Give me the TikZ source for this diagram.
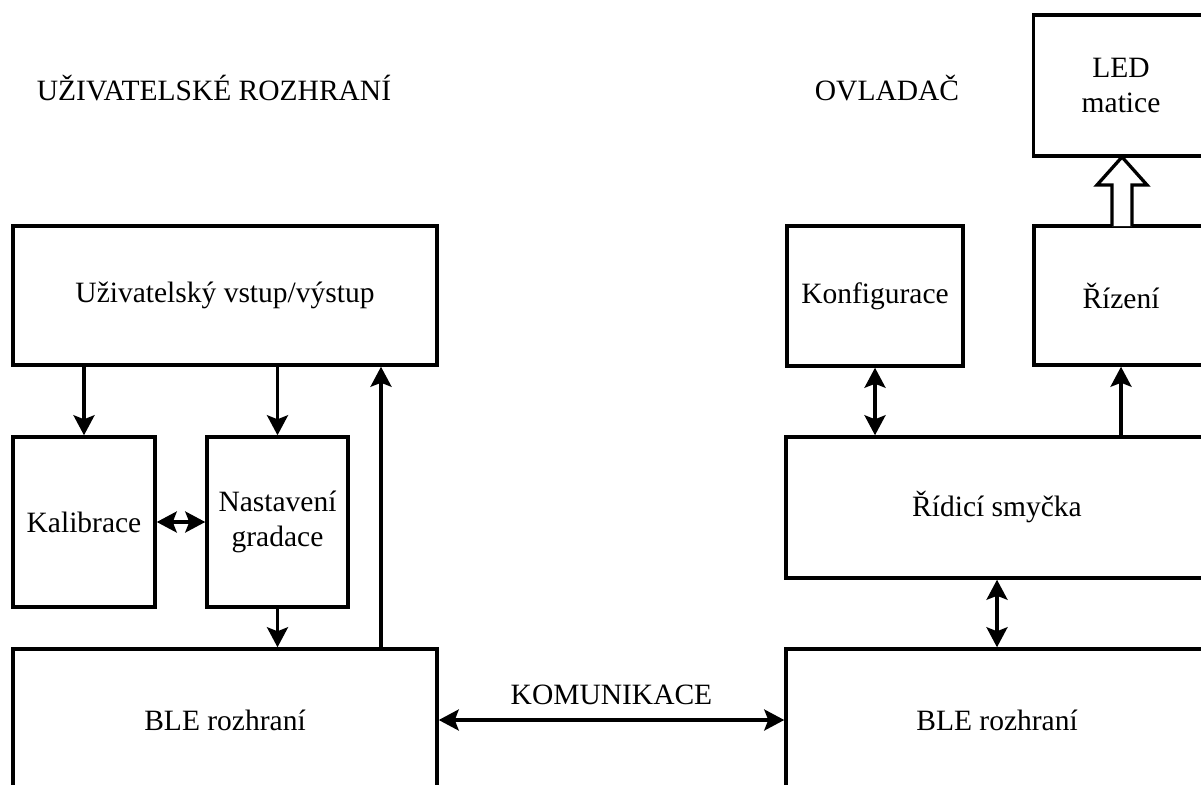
\documentclass[tikz,border=0pt]{standalone}
\usepackage{fontspec}
\setmainfont{Liberation Serif}
\usetikzlibrary{arrows.meta}
\begin{document}
\begin{tikzpicture}[x=1pt,y=-1pt,
  blok/.style={draw,line width=3.5pt,rectangle,inner sep=0pt,align=center,font=\fontsize{29.5}{35}\selectfont},
  sip/.style={line width=3.3pt,-{Stealth[length=20pt,width=21pt,inset=4pt]}},
  obousip/.style={line width=3.3pt,{Stealth[length=20pt,width=21pt,inset=4pt]}-{Stealth[length=20pt,width=21pt,inset=4pt]}},
  popis/.style={font=\fontsize{29.5}{35}\selectfont}]
\useasboundingbox (0,0) rectangle (1201,784);
\clip (0,0) rectangle (1201,784);
\fill[white] (0,0) rectangle (1201,784);

% headings
\node[popis] (hUI) at (214,88) {UŽIVATELSKÉ ROZHRANÍ};
\node[popis] (hOV) at (887,88) {OVLADAČ};

% left side: user interface
\node[blok,minimum width=424pt,minimum height=139pt] (uio) at (225,295.5) {Uživatelský vstup/výstup};
\node[blok,minimum width=142pt,minimum height=170pt] (kal) at (84,522) {Kalibrace};
\node[blok,minimum width=141pt,minimum height=170pt] (nas) at (277.5,522) {Nastavení\\gradace};
\node[blok,minimum width=424pt,minimum height=142pt] (bleL) at (225,720) {BLE rozhraní};

% right side: controller
\node[blok,minimum width=176pt,minimum height=140pt] (kon) at (875,296) {Konfigurace};
\node[blok,minimum width=174pt,minimum height=139pt] (riz) at (1121,295.5) {Řízení};
\node[blok,minimum width=175pt,minimum height=141pt] (led) at (1121,85.5) {LED\\matice};
\node[blok,minimum width=422pt,minimum height=141pt] (rid) at (997,507.5) {Řídicí smyčka};
\node[blok,minimum width=422pt,minimum height=142pt] (bleR) at (997,720) {BLE rozhraní};

% left connectors
\draw[sip] (uio.south -| kal.north) -- (kal.north);
\draw[sip] (uio.south -| nas.north) -- (nas.north);
\draw[obousip] (kal.east) -- (nas.west);
\draw[sip] (nas.south) -- (bleL.north -| nas.south);
\coordinate (zpet) at (381,0);
\draw[sip] (bleL.north -| zpet) -- (uio.south -| zpet);

% right connectors
\draw[obousip] (kon.south) -- (rid.north -| kon.south);
\draw[sip] (rid.north -| riz.south) -- (riz.south);
\draw[obousip] (rid.south) -- (bleR.north);

% communication link
\draw[obousip] (bleL.east) -- (bleR.west) node[midway,above=10pt,popis] (kom) {KOMUNIKACE};

% hollow block arrow from control to LED matrix
\draw[line width=3.3pt,fill=white,line join=miter]
  (1112,226) -- (1112,185) -- (1097,185) -- (1122,157) -- (1147,185) -- (1132,185) -- (1132,226);
\end{tikzpicture}
\end{document}
